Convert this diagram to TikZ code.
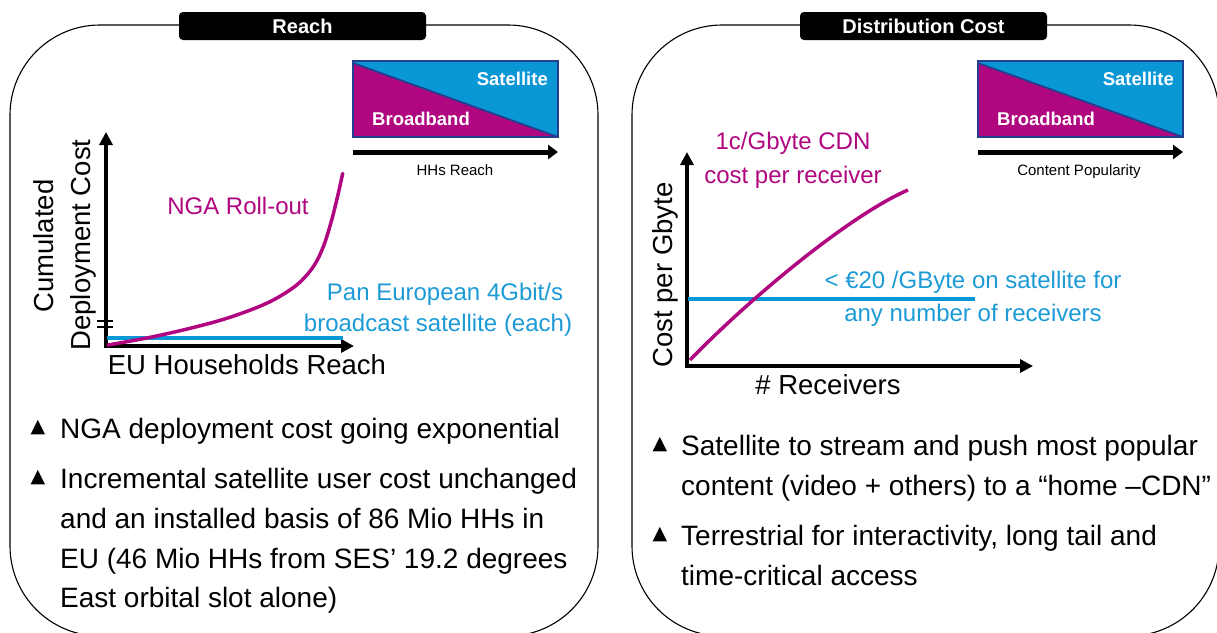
\documentclass[tikz,border=0pt]{standalone}
\usepackage{fontspec}
\setmainfont{Liberation Sans}
\newfontfamily\symfont{DejaVu Sans}
\usetikzlibrary{arrows.meta}
\definecolor{mag}{HTML}{B0067F}
\definecolor{sky}{HTML}{0A97D6}
\definecolor{skytext}{HTML}{1C9AD6}
\definecolor{boxborder}{HTML}{23408E}
\tikzset{
  panel/.style={draw=black, line width=1.1pt, rounded corners=90pt},
  header/.style={fill=black, rounded corners=4pt, text=white, inner sep=0pt,
    font=\fontsize{20}{24}\selectfont\bfseries, minimum width=247pt, minimum height=28pt},
  axis/.style={line width=4pt, -{Triangle[length=13pt,width=13pt]}},
  popaxis/.style={line width=5pt, -{Triangle[length=10pt,width=14pt]}},
  brk/.style={line width=2.5pt},
  magline/.style={mag, line width=3.5pt},
  skyline/.style={sky, line width=3.5pt},
  bigtxt/.style={inner sep=0pt, text height=19.8pt, text depth=0pt, font=\fontsize{27.5}{33}\selectfont},
  bultxt/.style={inner sep=0pt, text height=20.1pt, text depth=0pt, font=\fontsize{28}{33}\selectfont, anchor=west},
  midtxt/.style={inner sep=0pt, text height=17.3pt, text depth=0pt, font=\fontsize{24}{29}\selectfont},
  boxlabel/.style={inner sep=0pt, text height=13.3pt, text depth=0pt, text=white, font=\fontsize{18.5}{22}\selectfont\bfseries},
  smalltxt/.style={inner sep=0pt, text height=10.8pt, text depth=0pt, font=\fontsize{15}{18}\selectfont},
  bulletmark/.style={inner sep=0pt, font=\fontsize{19}{22}\symfont},
  boxframe/.style={draw=boxborder, line width=1.5pt},
}
\begin{document}
\begin{tikzpicture}[x=1pt,y=-1pt]
\useasboundingbox (0,0) rectangle (1217,632);
\clip (0,0) rectangle (1217,632);

% ---------- panels ----------
\draw[panel] (10,25) rectangle (598,636);
\draw[panel] (632,25) rectangle (1219,636);
\node[header] (hreach) at (302.5,26) {Reach};
\node[header] (hdist) at (923.5,26) {Distribution Cost};

% ---------- legend boxes ----------
\foreach \nm/\xl in {l/353, r/978}{
  \coordinate (\nm tl) at (\xl,61);
  \coordinate (\nm dt) at (\xl,63);
  \coordinate (\nm br) at (\xl+205,137);
  \coordinate (\nm bl) at (\xl,137);
  \fill[sky] (\nm tl) rectangle (\nm br);
  \fill[mag] (\nm dt) -- (\nm br) -- (\nm bl) -- cycle;
  \draw[boxborder, line width=1.8pt] (\nm dt) -- (\nm br);
  \draw[boxframe] (\nm tl) rectangle (\nm br);
  \coordinate (\nm as) at (\xl,152);
  \coordinate (\nm ae) at (\xl+205,152);
  \draw[popaxis] (\nm as) -- (\nm ae);
}
\node[boxlabel, anchor=east] (lsat) at (548,79) {Satellite};
\node[boxlabel, anchor=west] (lbb) at (372,119) {Broadband};
\node[boxlabel, anchor=east] (rsat) at (1174,79) {Satellite};
\node[boxlabel, anchor=west] (rbb) at (997,119) {Broadband};
\node[smalltxt] (lcap) at (455,170) {HHs Reach};
\node[smalltxt] (rcap) at (1079,170) {Content Popularity};

% ---------- left chart ----------
\coordinate (lo) at (106,346);
\coordinate (lytop) at (106,132);
\coordinate (lxend) at (354,346);
\coordinate (lxstart) at (104,346);
\draw[axis] (lo) -- (lytop);
\draw[axis] (lxstart) -- (lxend);
\coordinate (b1a) at (97,321); \coordinate (b1b) at (113,321);
\coordinate (b2a) at (97,327); \coordinate (b2b) at (113,327);
\draw[brk] (b1a) -- (b1b);
\draw[brk] (b2a) -- (b2b);
\coordinate (lsa) at (107,338); \coordinate (lsb) at (343,338);
\draw[skyline] (lsa) -- (lsb);
\draw[magline, line cap=round] plot[smooth, tension=0.55] coordinates {
  (108,345) (153.3,336.7) (203.3,325) (236.7,315) (270,301.7) (296.7,285)
  (313.3,266.7) (323.3,246.7) (331.7,220) (338.3,193.3) (342.7,173.3)};
\node[midtxt, text=mag] (nga) at (238,206) {NGA Roll-out};
\node[bigtxt, rotate=90] (cum) at (44,246) {Cumulated};
\node[bigtxt, rotate=90] (dep) at (81,245) {Deployment Cost};
\node[bigtxt] (euh) at (247,365) {EU Households Reach};
\node[midtxt, text=skytext] (pan1) at (445,292) {Pan European 4Gbit/s};
\node[midtxt, text=skytext] (pan2) at (438,323) {broadcast satellite (each)};

% ---------- right chart ----------
\coordinate (ro) at (687,366);
\coordinate (rytop) at (687,152);
\coordinate (rxstart) at (685,366);
\coordinate (rxend) at (1033,366);
\draw[axis] (ro) -- (rytop);
\draw[axis] (rxstart) -- (rxend);
\coordinate (rsa) at (688,299); \coordinate (rsb) at (975,299);
\draw[skyline] (rsa) -- (rsb);
\coordinate (rca) at (690,360); \coordinate (rcb) at (908,190);
\draw[magline] (rca) .. controls (750,298) and (850,215) .. (rcb);
\node[midtxt, text=mag] (cdn1) at (793,141) {1c/Gbyte CDN};
\node[midtxt, text=mag] (cdn2) at (793,175) {cost per receiver};
\node[bigtxt, rotate=90] (cpg) at (663,275) {Cost per Gbyte};
\node[bigtxt] (nrec) at (828,385) {\# Receivers};
\node[midtxt, text=skytext] (eur1) at (973,280) {< €20 /GByte on satellite for};
\node[midtxt, text=skytext] (eur2) at (973,313) {any number of receivers};

% ---------- bullets ----------
\node[bulletmark] (lm1) at (38,428) {▲};
\node[bultxt] (lb1) at (60,428) {NGA deployment cost going exponential};
\node[bulletmark] (lm2) at (38,478) {▲};
\node[bultxt] (lb2a) at (60,478) {Incremental satellite user cost unchanged};
\node[bultxt] (lb2b) at (60,518) {and an installed basis of 86 Mio HHs in};
\node[bultxt] (lb2c) at (60,558) {EU (46 Mio HHs from SES’ 19.2 degrees};
\node[bultxt] (lb2d) at (60,597) {East orbital slot alone)};

\node[bulletmark] (rm1) at (660,445) {▲};
\node[bultxt] (rb1a) at (681,445) {Satellite to stream and push most popular};
\node[bultxt] (rb1b) at (681,485) {content (video + others) to a “home –CDN”};
\node[bulletmark] (rm2) at (660,535) {▲};
\node[bultxt] (rb2a) at (681,535) {Terrestrial for interactivity, long tail and};
\node[bultxt] (rb2b) at (681,575) {time-critical access};
\end{tikzpicture}
\end{document}
